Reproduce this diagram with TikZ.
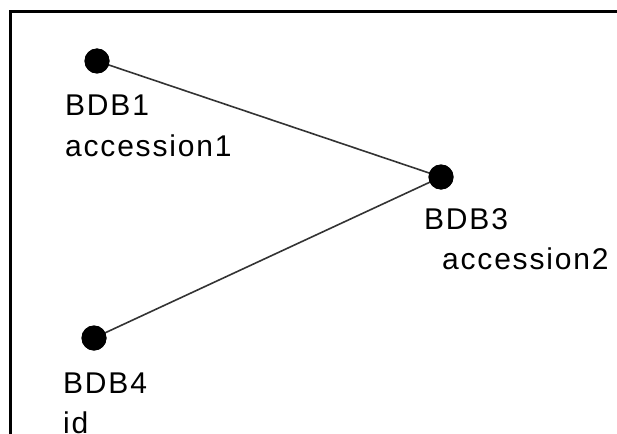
\documentclass[tikz,border=0pt]{standalone}
\usepackage{fontspec}
\setmainfont{Liberation Sans}[LetterSpace=6]
\begin{document}
\begin{tikzpicture}[x=1pt,y=-1pt,
  dot/.style={circle,fill=black,inner sep=0pt,minimum size=25pt},
  lbl/.style={anchor=base west,inner sep=0pt,font=\fontsize{30}{36}\selectfont},
  edge/.style={line width=1.6pt,draw=black!80}]
\useasboundingbox (0,0) rectangle (617,433);
\clip (0,0) rectangle (617,433);
\fill[white] (0,0) rectangle (617,433);
% frame: top and left sides only
\draw[line width=3pt] (10,460) -- (10,12) -- (640,12);
% points
\node[dot] (b1) at (97,61) {};
\node[dot] (b3) at (441,177) {};
\node[dot] (b4) at (94,338) {};
\draw[edge] (b1.center) -- (b3.center);
\draw[edge] (b4.center) -- (b3.center);
\node[dot] at (b1) {};
\node[dot] at (b3) {};
\node[dot] at (b4) {};
% labels
\node[lbl] (b1n) at (65,115) {BDB1};
\node[lbl] (b1a) at (65,156) {accession1};
\node[lbl] (b3n) at (424,229) {BDB3};
\node[lbl] (b3a) at (442,269) {accession2};
\node[lbl] (b4n) at (63,393) {BDB4};
\node[lbl] (b4a) at (63,433) {id};
\end{tikzpicture}
\end{document}
